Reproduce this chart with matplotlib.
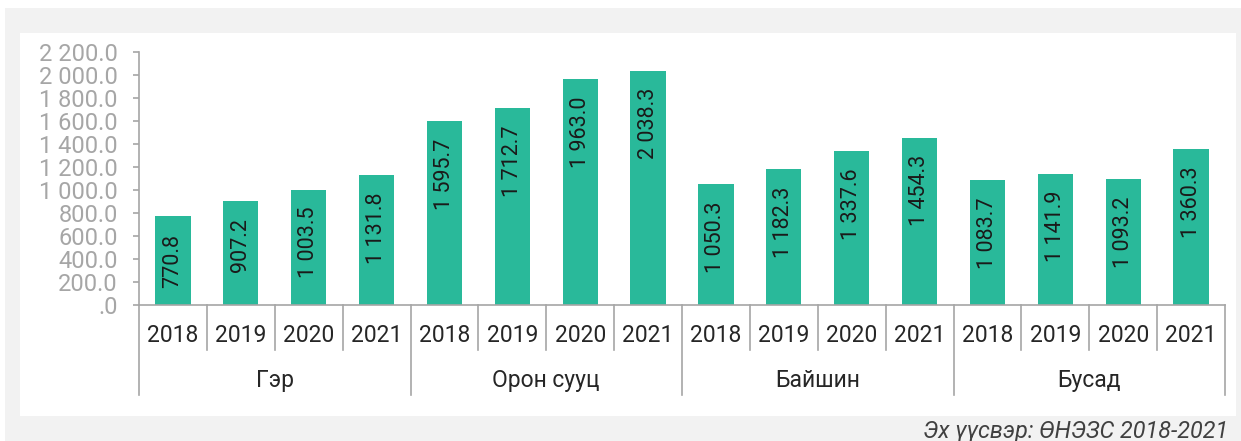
import matplotlib.pyplot as plt
from matplotlib.patches import Rectangle
from matplotlib.ticker import FuncFormatter

plt.rcParams['font.family'] = ['Roboto', 'DejaVu Sans']

groups = ["Гэр", "Орон сууц", "Байшин", "Бусад"]
years = ["2018", "2019", "2020", "2021"]
values = [
    [770.8, 907.2, 1003.5, 1131.8],
    [1595.7, 1712.7, 1963.0, 2038.3],
    [1050.3, 1182.3, 1337.6, 1454.3],
    [1083.7, 1141.9, 1093.2, 1360.3],
]
source = "Эх үүсвэр: ӨНЭЗС 2018-2021"

bar_color = "#29b99a"
axis_gray = "#a6a6a6"


def fmt(v, pos=None):
    if v == 0:
        return ".0"
    return f"{v:,.1f}".replace(",", " ")


W, H = 1241, 441
fig = plt.figure(figsize=(W / 100, H / 100), dpi=100)
fig.patch.set_facecolor("white")

# grey band and white panel behind the chart
fig.patches.append(Rectangle((5 / W, 0), 1, 1 - 8 / H, transform=fig.transFigure,
                             facecolor="#f2f2f2", edgecolor="none", zorder=-2))
fig.patches.append(Rectangle((20 / W, 1 - 416 / H), (1236 - 20) / W, (416 - 33) / H,
                             transform=fig.transFigure, facecolor="white",
                             edgecolor="none", zorder=-1))

ax_l, ax_r, ax_t, ax_b = 139, 1225, 52, 305
ax = fig.add_axes([ax_l / W, 1 - ax_b / H, (ax_r - ax_l) / W, (ax_b - ax_t) / H])
ax.set_facecolor("none")

flat = [v for g in values for v in g]
xs = list(range(len(flat)))
ax.bar(xs, flat, width=0.52, color=bar_color, zorder=2)

# labels sit inside the bar end, rotated
for x, v in zip(xs, flat):
    ax.annotate(fmt(v), xy=(x, v), xytext=(0, -12.5), textcoords="offset points",
                rotation=90, ha="center", va="top", fontsize=15.5,
                color="#1a1a1a", zorder=3)

ax.set_xlim(-0.5, len(flat) - 0.5)
ax.set_ylim(0, 2200)
ax.set_yticks(range(0, 2201, 200))
ax.yaxis.set_major_formatter(FuncFormatter(fmt))
ax.tick_params(axis="y", colors=axis_gray, labelcolor=axis_gray, labelsize=17,
               length=4.3, width=1.2, pad=11)
ax.set_xticks([])

for s in ["top", "right"]:
    ax.spines[s].set_visible(False)
for s in ["left", "bottom"]:
    ax.spines[s].set_color(axis_gray)
    ax.spines[s].set_linewidth(1.2)

# multi-level category axis
ah = ax_b - ax_t
tr = ax.get_xaxis_transform()
for i in range(len(flat) + 1):
    xb = i - 0.5
    if i % 4 == 0:
        y1 = -90 / ah
    else:
        y1 = -45 / ah
    ax.plot([xb, xb], [0, y1], transform=tr, color=axis_gray, lw=1.2, clip_on=False)

for x in xs:
    ax.text(x, -30 / ah, years[x % 4], transform=tr, ha="center", va="center",
            fontsize=16.5, color="#262626")
for gi, g in enumerate(groups):
    ax.text(gi * 4 + 1.5, -76 / ah, g, transform=tr, ha="center", va="center",
            fontsize=16.5, color="#262626")

fig.text(1228 / W, 1 - 438 / H, source, ha="right", va="baseline",
         fontsize=16.8, style="italic", color="#404040")

fig.savefig("out.png", dpi=100)
